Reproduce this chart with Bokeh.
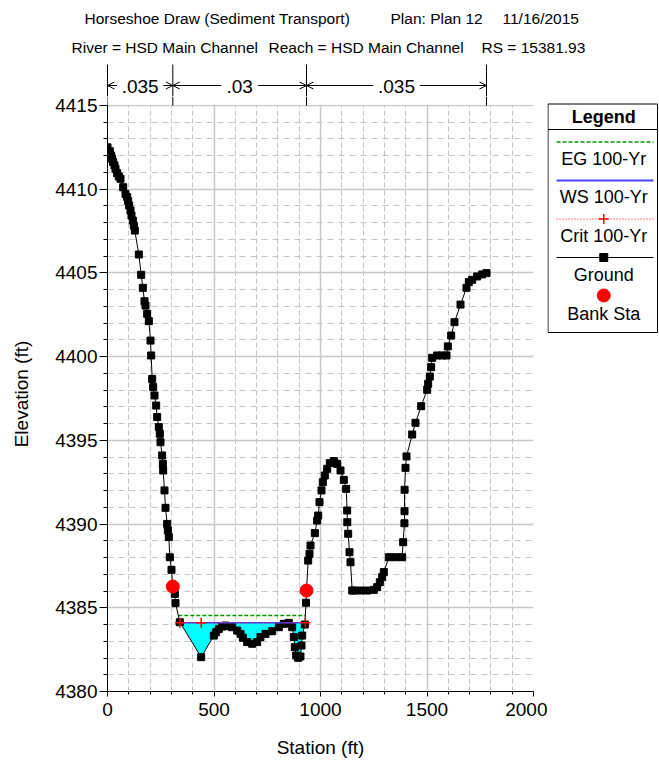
import numpy as np
from bokeh.plotting import figure
from bokeh.layouts import column, row
from bokeh.models import Range1d, FixedTicker, Arrow, OpenHead
from bokeh.core.properties import value
from bokeh.embed import file_html
from bokeh.resources import INLINE

# ---------------- data ----------------
station = [0.0, 10.9, 17.2, 21.9, 26.6, 32.9, 37.6, 45.4, 53.2, 61.0, 73.6, 84.5, 92.3, 97.0,
           101.7, 108.0, 112.7, 118.9, 123.6, 128.3, 147.1, 158.1, 165.9, 173.7, 178.4, 186.2,
           194.0, 201.9, 205.0, 209.7, 214.4, 220.7, 228.5, 233.2, 241.0, 245.7, 248.8, 256.6,
           259.8, 261.3, 267.6, 272.3, 280.1, 283.3, 287.9, 292.6, 300.5, 306.7, 316.1, 319.2,
           339.6, 439.8, 499.2, 510.2, 522.7, 538.3, 554.0, 569.6, 585.3, 608.8, 624.4, 635.4,
           655.7, 679.2, 702.7, 718.3, 741.8, 773.1, 804.4, 827.9, 851.3, 867.0, 874.8, 879.5,
           885.8, 895.2, 906.1, 910.8, 914.0, 926.4, 932.0, 934.3, 942.1, 948.4, 953.1, 973.4,
           984.4, 989.1, 995.3, 1004.7, 1010.9, 1020.3, 1031.3, 1043.8, 1062.6, 1078.3, 1093.9,
           1109.5, 1120.5, 1125.2, 1125.8, 1129.9, 1136.2, 1140.8, 1148.7, 1156.5, 1187.8,
           1219.1, 1250.4, 1266.0, 1278.5, 1289.5, 1297.3, 1320.8, 1352.1, 1383.4, 1388.1,
           1394.0, 1394.4, 1394.8, 1399.1, 1403.8, 1430.4, 1446.0, 1472.6, 1500.8, 1505.5,
           1513.3, 1519.6, 1524.3, 1547.7, 1571.2, 1591.5, 1597.8, 1613.5, 1629.1, 1657.3,
           1685.4, 1696.4, 1712.1, 1735.5, 1759.0, 1779.3]
elevation = [4412.50, 4412.27, 4412.01, 4411.81, 4411.62, 4411.42, 4411.22, 4410.96, 4410.76,
             4410.62, 4410.12, 4409.72, 4409.53, 4409.29, 4409.03, 4408.73, 4408.43, 4408.13,
             4407.83, 4407.53, 4406.10, 4404.89, 4404.11, 4403.31, 4403.05, 4402.56, 4402.12,
             4400.96, 4400.07, 4398.67, 4398.18, 4397.68, 4397.08, 4396.39, 4395.79, 4395.39,
             4394.89, 4394.10, 4393.60, 4393.20, 4392.01, 4390.97, 4390.01, 4389.62, 4389.22,
             4388.02, 4387.27, 4386.27, 4385.83, 4385.28, 4384.14, 4382.05, 4383.34, 4383.54,
             4383.74, 4383.88, 4383.94, 4383.90, 4383.84, 4383.64, 4383.44, 4383.21, 4382.95,
             4382.85, 4382.95, 4383.25, 4383.44, 4383.60, 4383.84, 4384.04, 4384.10, 4383.84,
             4383.25, 4382.65, 4382.15, 4382.01, 4382.09, 4382.75, 4383.34, 4384.00, 4385.30,
             4386.03, 4387.82, 4388.22, 4388.72, 4389.46, 4390.21, 4390.51, 4391.31, 4392.01,
             4392.50, 4392.90, 4393.30, 4393.64, 4393.76, 4393.60, 4393.20, 4392.64, 4392.10,
             4390.81, 4390.11, 4389.42, 4388.32, 4387.72, 4386.03, 4386.03, 4386.03, 4386.03,
             4386.07, 4386.23, 4386.53, 4386.83, 4387.13, 4388.02, 4388.02, 4388.02, 4388.92,
             4390.05, 4390.77, 4392.05, 4393.36, 4394.04, 4395.35, 4396.05, 4397.04, 4398.02,
             4398.38, 4398.81, 4399.37, 4399.93, 4400.07, 4400.07, 4400.07, 4400.61, 4401.26,
             4402.06, 4403.11, 4404.11, 4404.45, 4404.59, 4404.79, 4404.91, 4404.99]
bank_sta = [306.7, 934.3]
bank_elev = [4386.27, 4386.03]
n_breaks = [0.0, 306.7, 934.3, 1779.3]
n_values = [".035", ".03", ".035"]
eg_elev = 4384.54
ws_elev = 4384.10
crit_elev = 4384.10
crit_marker_sta = [339.6, 439.8, 929.0]
x_ticks = [0, 500, 1000, 1500, 2000]
y_ticks = [4380, 4385, 4390, 4395, 4400, 4405, 4410, 4415]
x_minor = list(range(0, 2001, 100))
y_minor = list(range(4380, 4416, 1))
title_line1 = ["Horseshoe Draw (Sediment Transport)", "Plan: Plan 12", "11/16/2015"]
title_line2 = ["River = HSD Main Channel", "Reach = HSD Main Channel", "RS = 15381.93"]
legend_title = "Legend"
legend_labels = ["EG 100-Yr", "WS 100-Yr", "Crit 100-Yr", "Ground", "Bank Sta"]

FONT = "Liberation Sans"
EG_COLOR = "#009a00"
WS_COLOR = "#4646ff"

# ---------------- layout geometry (pixels) ----------------
W, H = 659, 762
HT = 96                       # header height
FL, FR, FT, FB = 107, 533, 105, 691   # plot area of the axes
LW = 547                      # width of main figure (legend to the right)
X0, X1 = 0, 2000
Y0, Y1 = 4380, 4415
px_per_ft = (FR - FL) / (X1 - X0)
ft_per_px_y = (Y1 - Y0) / (FB - FT)
Y_TOP = Y1 + (FT - HT) * ft_per_px_y   # frame extends a few px above the axes top


def bare(fig):
    fig.grid.visible = False
    fig.outline_line_color = None
    fig.background_fill_color = "white"
    fig.border_fill_color = "white"
    return fig


# ---------------- header figure (titles + n values) ----------------
hdr = bare(figure(width=W, height=HT, title=None, output_backend="svg", toolbar_location=None,
                  x_range=Range1d(X0 - FL / px_per_ft, X0 + (W - FL) / px_per_ft),
                  y_range=Range1d(HT, 0), min_border=0,
                  x_axis_location=None, y_axis_location=None))
hdr.extra_x_ranges = {"px": Range1d(0, W)}

txt_kw = dict(x_range_name="px", text_font=value(FONT), text_font_size="15.5px",
              text_align="left", text_baseline="middle", text_color="black")
hdr.text(x=[84, 390, 502], y=[18] * 3, text=title_line1, **txt_kw)
hdr.text(x=[71, 268, 481], y=[47] * 3, text=title_line2, **txt_kw)

hdr.segment(x0=n_breaks, y0=[64] * len(n_breaks), x1=n_breaks, y1=[HT] * len(n_breaks),
            line_color="black", line_width=1)
centers = [(n_breaks[i] + n_breaks[i + 1]) / 2 for i in range(len(n_values))]
hdr.text(x=centers, y=[86] * len(centers), text=n_values, text_font=value(FONT),
         text_font_size="19px", text_align="center", text_baseline="middle",
         text_color="black")
for i, n in enumerate(n_values):
    s0, s1, c = n_breaks[i], n_breaks[i + 1], centers[i]
    half = (len(n) * 9.6 / 2 + 4) / px_per_ft
    for a, b in [(c - half, s0), (c + half, s1)]:
        hdr.add_layout(Arrow(end=OpenHead(size=7, line_width=1, line_color="black"),
                             x_start=a, x_end=b, y_start=85, y_end=85,
                             line_color="black", line_width=1))

# ---------------- main plot ----------------
p = figure(width=LW, height=H - HT, title=None, x_range=Range1d(X0, X1),
           y_range=Range1d(Y0, Y_TOP), output_backend="svg", toolbar_location=None,
           min_border_left=FL, min_border_right=LW - FR, min_border_top=0,
           min_border_bottom=H - FB)
p.background_fill_color = "white"
p.border_fill_color = "white"
p.outline_line_color = None

p.xaxis.ticker = FixedTicker(ticks=x_ticks, minor_ticks=x_minor)
p.yaxis.ticker = FixedTicker(ticks=y_ticks, minor_ticks=y_minor)
p.yaxis.bounds = (Y0, Y1)
p.xgrid.ticker = p.xaxis.ticker
p.ygrid.ticker = p.yaxis.ticker
p.xaxis.axis_label = "Station (ft)"
p.yaxis.axis_label = "Elevation (ft)"
for ax in [p.xaxis[0], p.yaxis[0]]:
    ax.axis_label_text_font = FONT
    ax.axis_label_text_font_size = "19px"
    ax.axis_label_text_font_style = "normal"
    ax.axis_label_text_color = "black"
    ax.major_label_text_font = FONT
    ax.major_label_text_font_size = "19px"
    ax.major_label_text_color = "black"
    ax.axis_line_color = "black"
    ax.major_tick_line_color = "black"
    ax.minor_tick_line_color = "black"
    ax.major_tick_in = 0
    ax.minor_tick_in = 0
p.yaxis.major_tick_out = 8
p.yaxis.minor_tick_out = 4
p.yaxis.major_label_standoff = 2
p.yaxis.axis_label_standoff = 20
p.xaxis.major_tick_out = 5
p.xaxis.minor_tick_out = 3
p.xaxis.major_label_standoff = 6
p.xaxis.axis_label_standoff = 18

for g in [p.xgrid[0], p.ygrid[0]]:
    g.grid_line_color = "#c8c8c8"
    g.grid_line_width = 1.5
    g.minor_grid_line_color = "#c4c4c4"
    g.minor_grid_line_width = 1
p.xgrid.minor_grid_line_dash = "5 3"
p.ygrid.minor_grid_line_dash = "6 5"

# strip above the axes top: blank it and continue the n-value dividers
p.quad(left=[X0], right=[X1], bottom=[Y1 + 0.04], top=[Y_TOP], fill_color="white",
       line_color=None)
p.segment(x0=n_breaks, y0=[Y1] * len(n_breaks), x1=n_breaks, y1=[Y_TOP] * len(n_breaks),
          line_color="black", line_width=1)

st = np.array(station)
el = np.array(elevation)


def wet_extent(level):
    m = (st >= bank_sta[0]) & (st <= bank_sta[1])
    s, e = st[m], el[m]
    below = e <= level
    i0 = int(np.argmax(below))
    i1 = len(below) - 1 - int(np.argmax(below[::-1]))
    xl = float(np.interp(level, [e[i0], e[i0 - 1]], [s[i0], s[i0 - 1]]))
    xr = float(np.interp(level, [e[i1], e[i1 + 1]], [s[i1], s[i1 + 1]]))
    return xl, xr, s[i0:i1 + 1], e[i0:i1 + 1]


wl, wr, ws_s, ws_e = wet_extent(ws_elev)
fx = [wl] + list(ws_s) + [wr]
fy = [ws_elev] + list(np.minimum(ws_e, ws_elev)) + [ws_elev]
p.varea(x=fx, y1=fy, y2=[ws_elev] * len(fx), fill_color="#00ffff")

el_l, el_r, _, _ = wet_extent(eg_elev)
p.line([el_l, el_r], [eg_elev, eg_elev], line_color=EG_COLOR, line_width=1.3, line_dash="4 2")

p.line(station, elevation, line_color="black", line_width=1)
p.scatter(station, elevation, marker="square", size=7, fill_color="black", line_color="black")

p.line([wl, wr], [ws_elev, ws_elev], line_color=WS_COLOR, line_width=1.5)
cl, cr, _, _ = wet_extent(crit_elev)
p.line([cl, cr], [crit_elev, crit_elev], line_color="red", line_width=1, line_dash="1 2")
p.scatter(crit_marker_sta, [crit_elev] * len(crit_marker_sta), marker="cross", size=10,
          line_color="red", line_width=1.5)

p.scatter(bank_sta, bank_elev, marker="circle", size=13, fill_color="red", line_color="red")

# ---------------- legend figure (pixel coordinates) ----------------
lg = bare(figure(width=W - LW, height=H - HT, title=None, output_backend="svg",
                 toolbar_location=None, x_range=Range1d(LW, W), y_range=Range1d(FB, HT),
                 min_border_left=0, min_border_right=0, min_border_top=0,
                 min_border_bottom=H - FB, x_axis_location=None, y_axis_location=None))
LX0, LX1, LY0, LY1 = 547.5, 657, 103.5, 332
LC = (LX0 + LX1) / 2 + 1
lg.quad(left=[LX0], right=[LX1], top=[LY0], bottom=[LY1], fill_color=None,
        line_color="black", line_width=1)
lg.segment(x0=[LX0], y0=[129], x1=[LX1], y1=[129], line_color="black", line_width=1)
lg.text(x=[LC], y=[116], text=[legend_title], text_font=value(FONT), text_font_size="18px",
        text_font_style="bold", text_align="center", text_baseline="middle",
        text_color="black")
sx0, sx1 = 556, 653
sample_y = [141.5, 180, 218.5, 257, 295]
label_y = [158, 196, 235, 274, 313]
lg.line([sx0, sx1], [sample_y[0]] * 2, line_color=EG_COLOR, line_width=1.3, line_dash="4 2")
lg.line([sx0, sx1], [sample_y[1]] * 2, line_color=WS_COLOR, line_width=2)
lg.line([sx0, sx1], [sample_y[2]] * 2, line_color="red", line_width=1, line_dash="1 2")
lg.scatter([LC], [sample_y[2]], marker="cross", size=10, line_color="red", line_width=1.5)
lg.line([sx0, sx1], [sample_y[3]] * 2, line_color="black", line_width=1)
lg.scatter([LC], [sample_y[3]], marker="square", size=8, fill_color="black",
           line_color="black")
lg.scatter([LC], [sample_y[4]], marker="circle", size=13, fill_color="red", line_color="red")
lg.text(x=[LC] * len(legend_labels), y=label_y, text=legend_labels, text_font=value(FONT),
        text_font_size="18px", text_align="center", text_baseline="middle",
        text_color="black")

layout = column(hdr, row(p, lg, spacing=0), spacing=0)
open("out.html", "w").write(file_html(layout, INLINE))
